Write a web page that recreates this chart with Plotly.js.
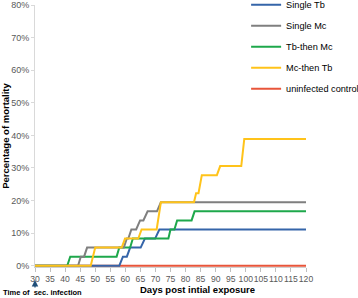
<!DOCTYPE html>
<html><head><meta charset="utf-8">
<script src="https://cdn.plot.ly/plotly-3.0.1.min.js"></script>
<style>html,body{margin:0;padding:0;background:#fff;}#chart{width:358px;height:298px;}</style>
</head><body><div id="chart"></div>
<script>
// Series (days post initial exposure, % mortality)
const seriesNames = ["Single Tb", "Single Mc", "Tb-then Mc", "Mc-then Tb", "uninfected control"];
const singleTbDays = [30, 58, 59.2, 60.5, 61.6, 65.1, 66.5, 69.9, 71.3, 120];
const singleTbVals = [0, 0, 2.78, 2.78, 5.56, 5.56, 8.33, 8.33, 11.11, 11.11];
const singleMcDays = [30, 44.3, 45.2, 46.3, 47.3, 59.5, 60.5, 61, 62, 63.6, 64.9, 66, 67.4, 70.5, 71.8, 120];
const singleMcVals = [0, 0, 2.78, 2.78, 5.56, 5.56, 8.33, 8.33, 11.11, 11.11, 13.89, 13.89, 16.67, 16.67, 19.44, 19.44];
const tbThenMcDays = [30, 40.7, 41.7, 57.1, 58, 61.6, 62.5, 74.3, 75, 76.3, 77.2, 82, 83, 120];
const tbThenMcVals = [0, 0, 2.78, 2.78, 5.56, 5.56, 8.33, 8.33, 11.11, 11.11, 13.89, 13.89, 16.67, 16.67];
const mcThenTbDays = [30, 48.5, 50, 58.8, 59.9, 64.3, 65.4, 70.4, 71.8, 82.8, 83.5, 84.3, 85.4, 90.4, 91.5, 98.5, 99.5, 120];
const mcThenTbVals = [0, 0, 5.56, 5.56, 8.33, 8.33, 11.11, 11.11, 19.44, 19.44, 22.22, 22.22, 27.78, 27.78, 30.56, 30.56, 38.89, 38.89];
const controlDays = [30, 120];
const controlVals = [0, 0];
const xTicks = [30,35,40,45,50,55,60,65,70,75,80,85,90,95,100,105,110,115,120];
const yTicks = [0,10,20,30,40,50,60,70,80];
const yTickLabels = ["0%","10%","20%","30%","40%","50%","60%","70%","80%"];

const colors = ["#3565a9", "#7f7f7f", "#1ea84b", "#ffc31a", "#e8553a"];
const allDays = [singleTbDays, singleMcDays, tbThenMcDays, mcThenTbDays, controlDays];
const allVals = [singleTbVals, singleMcVals, tbThenMcVals, mcThenTbVals, controlVals];
const drawOrder = [4, 0, 2, 1, 3];
const traces = drawOrder.map(i => ({
  type: "scatter", mode: "lines", name: seriesNames[i],
  x: allDays[i], y: allVals[i],
  line: {color: colors[i], width: 2},
  legendgroup: "g" + i, legendrank: i + 1,
  hoverinfo: "skip"
}));

const FONT = "Liberation Sans, Arial, sans-serif";
const layout = {
  width: 358, height: 298,
  margin: {l: 35, r: 52, t: 5, b: 31, autoexpand: false},
  paper_bgcolor: "#fff", plot_bgcolor: "#fff",
  showlegend: true,
  legend: {x: 0.779, xanchor: "left", y: 1.056, yanchor: "top", itemwidth: 30,
           font: {family: FONT, size: 9.2, color: "#000"},
           traceorder: "grouped", tracegroupgap: 2, bgcolor: "rgba(0,0,0,0)"},
  xaxis: {range: [30, 120], tickvals: xTicks, ticktext: xTicks.map(String), tickangle: 0,
          showgrid: false, zeroline: false, showline: true, linecolor: "#d0d0d0",
          ticks: "outside", ticklen: 4, tickcolor: "#bfbfbf",
          tickfont: {family: FONT, size: 8.6, color: "#595959"}},
  yaxis: {range: [-0.4, 80], tickvals: yTicks, ticktext: yTickLabels,
          showgrid: false, zeroline: false, showline: true, linecolor: "#d9d9d9",
          ticks: "outside", ticklen: 3, tickcolor: "#d9d9d9",
          tickfont: {family: FONT, size: 9, color: "#595959"},
          title: {text: "<b>Percentage of mortality</b>", standoff: 8,
                  font: {family: FONT, size: 9.5, color: "#000"}}},
  annotations: [
    {text: "<b>Days post intial exposure</b>", xref: "paper", yref: "paper",
     x: (197 - 35) / 271, y: -0.087, xanchor: "center", yanchor: "middle", showarrow: false,
     font: {family: FONT, size: 9.5, color: "#000"}},
    {text: "<b>Time of  sec. infection</b>", xref: "paper", yref: "paper",
     x: (42 - 35) / 271, y: -0.099, xanchor: "center", yanchor: "middle", showarrow: false,
     font: {family: FONT, size: 7.5, color: "#000"}},
    {text: "", xref: "x", yref: "paper", x: 30, y: -0.05, ax: 0, ay: 9,
     showarrow: true, arrowhead: 2, arrowsize: 1, arrowwidth: 1.3, arrowcolor: "#1f4e79"}
  ]
};
Plotly.newPlot("chart", traces, layout, {staticPlot: true, displayModeBar: false});
</script></body></html>
